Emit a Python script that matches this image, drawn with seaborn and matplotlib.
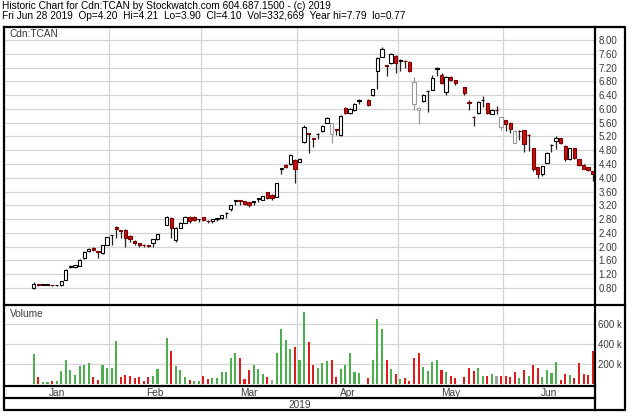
import matplotlib
matplotlib.use("Agg")
import matplotlib.pyplot as plt
import numpy as np
import pandas as pd
import seaborn as sns

# --- data ---
# weekdays on the axis; trading starts Jan 9, holidays are left empty
all_days = pd.bdate_range("2019-01-01", "2019-06-28")
holidays = ["2019-02-18", "2019-04-19", "2019-05-20"]
first_trade = "2019-01-09"

opens = [0.80, 0.90, 0.89, 0.89, 0.89, 0.88, 0.88, 1.03, 1.40, 1.40, 1.45, 1.66, 1.88, 1.97, 1.87, 1.82, 2.06, 2.33,
         2.57, 2.47, 2.48, 2.32, 2.17, 2.10, 2.06, 2.04, 2.10, 2.22,
         2.64, 2.82, 2.20, 2.55, 2.70, 2.86, 2.86, 2.80, 2.86, 2.76, 2.74, 2.81, 2.82, 2.98, 3.08, 3.34, 3.34, 3.32,
         3.30, 3.30, 3.39, 3.37, 3.58, 3.50, 3.45, 4.26, 4.37, 4.40, 4.52,
         4.47, 5.05, 5.29, 5.14, 5.27, 5.37, 5.60, 5.27, 5.41, 5.24, 6.04, 5.87, 5.97, 6.22,
         6.26, 6.40, 7.10, 7.52, 7.27, 7.34, 7.55, 7.40, 7.40, 7.36, 6.14, 5.97, 6.22, 6.52, 6.56, 7.15, 7.00, 6.50,
         6.94, 6.83,
         6.63, 6.19, 5.77, 5.87, 6.25, 6.16, 5.86, 5.98, 5.48, 5.67, 5.60, 5.02, 5.36, 5.39, 5.25, 4.86, 4.30, 4.10,
         4.44, 4.94, 5.08, 5.15, 4.93, 4.54, 4.86, 4.54, 4.37, 4.30, 4.20]
highs = [0.96, 0.91, 0.91, 0.91, 0.90, 0.90, 1.01, 1.34, 1.46, 1.47, 1.63, 1.86, 1.97, 1.98, 1.88, 2.06, 2.28, 2.35,
         2.59, 2.48, 2.50, 2.33, 2.19, 2.11, 2.07, 2.05, 2.22, 2.38,
         2.89, 2.85, 2.58, 2.72, 2.88, 2.88, 2.88, 2.81, 2.87, 2.78, 2.80, 2.83, 2.93, 3.00, 3.22, 3.36, 3.36, 3.33,
         3.31, 3.32, 3.41, 3.48, 3.60, 3.52, 3.86, 4.28, 4.39, 4.70, 4.55,
         4.58, 5.52, 5.30, 5.16, 5.29, 5.52, 5.76, 5.60, 5.42, 5.82, 6.06, 6.03, 6.17, 6.30,
         6.28, 6.58, 7.50, 7.79, 7.29, 7.62, 7.57, 7.44, 7.42, 7.38, 6.94, 6.06, 6.43, 6.55, 6.99, 7.22, 7.04, 6.96,
         6.96, 6.85,
         6.65, 6.26, 5.80, 6.23, 6.38, 6.18, 5.99, 6.10, 5.78, 5.69, 5.62, 5.38, 5.38, 5.40, 5.26, 4.88, 4.32, 4.35,
         4.75, 4.97, 5.20, 5.17, 4.95, 4.88, 4.88, 4.56, 4.39, 4.32, 4.21]
lows = [0.77, 0.87, 0.88, 0.88, 0.86, 0.87, 0.87, 1.02, 1.38, 1.38, 1.43, 1.65, 1.84, 1.86, 1.66, 1.80, 2.04, 2.05,
        2.25, 2.25, 2.00, 2.15, 2.05, 2.00, 2.00, 2.00, 1.98, 2.20,
        2.62, 2.25, 2.15, 2.53, 2.68, 2.70, 2.74, 2.72, 2.75, 2.70, 2.70, 2.75, 2.80, 2.82, 3.05, 3.20, 3.22, 3.20,
        3.16, 3.20, 3.30, 3.35, 3.38, 3.36, 3.43, 4.12, 4.28, 4.38, 3.84,
        4.45, 5.00, 4.71, 4.90, 5.12, 5.34, 5.58, 5.00, 5.25, 5.22, 5.85, 5.85, 5.95, 6.15,
        6.08, 6.38, 6.59, 7.50, 6.95, 7.30, 7.05, 7.10, 7.20, 7.08, 5.98, 5.57, 6.20, 5.90, 6.54, 6.95, 6.72, 6.40,
        6.80, 6.70,
        6.40, 5.96, 5.50, 5.85, 6.05, 5.85, 5.84, 5.85, 5.40, 5.35, 5.31, 5.00, 5.10, 4.76, 4.77, 4.20, 4.00, 4.05,
        4.42, 4.75, 4.85, 4.98, 4.50, 4.52, 4.55, 4.35, 4.25, 4.20, 3.90]
closes = [0.93, 0.89, 0.90, 0.91, 0.88, 0.89, 1.00, 1.32, 1.43, 1.46, 1.61, 1.84, 1.93, 1.89, 1.85, 2.05, 2.27, 2.34,
          2.50, 2.46, 2.25, 2.21, 2.10, 2.05, 2.04, 2.03, 2.21, 2.36,
          2.87, 2.53, 2.55, 2.70, 2.86, 2.74, 2.78, 2.80, 2.77, 2.74, 2.79, 2.82, 2.92, 2.99, 3.21, 3.35, 3.33, 3.23,
          3.21, 3.31, 3.40, 3.47, 3.40, 3.40, 3.84, 4.27, 4.32, 4.66, 4.27,
          4.56, 5.48, 5.27, 5.13, 5.28, 5.50, 5.75, 5.58, 5.40, 5.79, 5.87, 6.00, 6.14, 6.26,
          6.12, 6.57, 7.47, 7.73, 7.26, 7.60, 7.32, 7.41, 7.38, 7.11, 6.78, 6.04, 6.41, 6.53, 6.90, 7.19, 6.75, 6.93,
          6.84, 6.75,
          6.46, 6.18, 5.76, 6.21, 6.27, 5.87, 5.97, 5.97, 5.76, 5.57, 5.41, 5.36, 5.37, 4.98, 5.23, 4.27, 4.10, 4.33,
          4.73, 4.95, 5.15, 5.00, 4.54, 4.86, 4.57, 4.37, 4.27, 4.22, 4.10]
volumes = [300000, 66000, 23000, 23000, 30000, 30000, 133000, 243000, 144000, 90000, 176000, 190000, 210000,
           70000, 37000, 190000, 160000, 160000,
           434000, 66000, 90000, 80000, 63000, 70000, 30000, 66000, 77000, 150000,
           457000, 330000, 184000, 144000, 70000, 37000, 34000, 34000, 80000, 50000, 63000, 60000, 117000, 123000,
           260000, 307000, 260000, 50000, 140000, 190000, 150000, 100000, 70000, 40000, 310000, 550000, 440000,
           350000, 370000,
           240000, 725000, 420000, 194000, 164000, 213000, 233000, 243000, 66000, 154000, 194000, 308000, 121000,
           115000,
           56000, 236000, 648000, 548000, 236000, 148000, 98000, 49000, 56000, 33000, 262000, 312000, 174000, 131000,
           220000, 243000, 144000, 121000, 82000, 56000,
           72000, 161000, 131000, 164000, 82000, 79000, 105000, 82000, 79000, 79000, 72000, 121000, 56000, 138000,
           82000, 187000, 161000, 72000, 144000, 115000, 220000, 39000, 98000, 95000, 56000, 213000, 105000, 89000,
           332669]

price_ticks = np.arange(0.8, 8.01, 0.4)
volume_ticks = [200000, 400000, 600000]

# --- place the trading days on the weekday axis ---
trade_mask = (all_days >= pd.Timestamp(first_trade)) & ~all_days.isin(pd.to_datetime(holidays))
pos = np.arange(len(all_days))[trade_mask]
df = pd.DataFrame({"pos": pos, "open": opens, "high": highs, "low": lows,
                   "close": closes, "vol": volumes}, index=all_days[trade_mask])
prev = df["close"].shift(1).fillna(df["open"].iloc[0])
df["move"] = np.where(df["close"] > prev, "up", np.where(df["close"] < prev, "down", "flat"))

months = pd.Series(np.arange(len(all_days)), index=all_days).groupby(all_days.month)
month_start = [g.iloc[0] - 0.5 for _, g in months][1:]
month_mid = [g.mean() for _, g in months]
month_names = [g.index[0].strftime("%b") for _, g in months]

# --- figure ---
sns.set_theme(style="white")
plt.rcParams["font.family"] = ["Liberation Sans", "DejaVu Sans"]

W, H = 632, 417
fig = plt.figure(figsize=(W / 100, H / 100), dpi=100)


def px_axes(x0, y0, x1, y1):
    return fig.add_axes([x0 / W, 1 - y1 / H, (x1 - x0) / W, (y1 - y0) / H])


ax_p = px_axes(4, 27, 595, 305)
ax_v = px_axes(4, 305, 595, 386)
ax_m = px_axes(4, 386, 595, 398)
ax_y = px_axes(4, 398, 595, 410)

grid_kw = dict(color="#d4d4d4", linewidth=0.9)
label_color = "#3a3a3a"

# candlesticks
up = df["close"] >= df["open"]
edge = np.where(up, np.where(df["move"] == "down", "#9a9a9a", "black"), "#7a0000")
face = np.where(up, "white", "#c81010")
wick = np.where(up & (df["move"] == "down"), "#9a9a9a", "#222222")
body_lo = np.minimum(df["open"], df["close"])
body_h = np.maximum((df["close"] - df["open"]).abs(), 0.012)
ax_p.vlines(df["pos"], df["low"], df["high"], colors=wick, linewidth=0.9, zorder=3)
ax_p.bar(df["pos"], body_h, bottom=body_lo, width=0.72, color=face, edgecolor=edge,
         linewidth=0.8, zorder=4)

ax_p.set_xlim(-0.5, len(all_days) - 0.5)
ax_p.set_ylim(0.306, 8.38)
ax_p.yaxis.tick_right()
ax_p.set_yticks(price_ticks)
ax_p.set_yticklabels([f"{v:.2f}" for v in price_ticks])
ax_p.set_xticks(month_start)
ax_p.tick_params(axis="both", length=0, labelbottom=False, labelsize=7, labelcolor=label_color, pad=2.5)
ax_p.grid(True, **grid_kw)
ax_p.set_axisbelow(True)

# volume
sns.barplot(data=df, x="pos", y="vol", hue="move", native_scale=True, dodge=False, errorbar=None,
            palette={"up": "#4cae4c", "down": "#e01b1b", "flat": "#a0a0a0"}, saturation=1,
            width=0.45, linewidth=0, legend=False, ax=ax_v, zorder=3)
ax_v.set_xlim(-0.5, len(all_days) - 0.5)
ax_v.set_ylim(-20000, 790000)
ax_v.yaxis.tick_right()
ax_v.set_yticks(volume_ticks)
ax_v.set_yticklabels([f"{v // 1000:.0f} k" for v in volume_ticks])
ax_v.set_xticks(month_start)
ax_v.tick_params(axis="both", length=0, labelbottom=False, labelsize=7, labelcolor=label_color, pad=2.5)
ax_v.set_xlabel("")
ax_v.set_ylabel("")
ax_v.grid(True, **grid_kw)
ax_v.set_axisbelow(True)

# month and year rows
for ax in (ax_m, ax_y):
    ax.set_xlim(-0.5, len(all_days) - 0.5)
    ax.set_ylim(0, 1)
    ax.set_xticks([])
    ax.set_yticks([])
for x, name in zip(month_mid, month_names):
    ax_m.text(x, 0.45, name, ha="center", va="center", fontsize=7.3, color=label_color)
ax_y.text((len(all_days) - 1) / 2, 0.45, str(all_days[0].year), ha="center", va="center",
          fontsize=7.3, color=label_color)

for ax in (ax_p, ax_v, ax_m, ax_y):
    for s in ax.spines.values():
        s.set_visible(False)
    ax.set_facecolor("white")

# frame lines and header on a pixel overlay
ov = fig.add_axes([0, 0, 1, 1], facecolor="none", zorder=10)
ov.set_xlim(0, W)
ov.set_ylim(H, 0)
ov.axis("off")
lk = dict(color="black", linewidth=1.6, solid_capstyle="projecting")
ov.plot([3.5, 625, 625, 3.5, 3.5], [27, 27, 410, 410, 27], **lk)
ov.plot([595, 595], [27, 410], **lk)
ov.plot([3.5, 625], [305, 305], **lk)
ov.plot([3.5, 595], [386, 386], **lk)
ov.plot([3.5, 595], [398, 398], **lk)

last = df.iloc[-1]
day = df.index[-1]
ov.text(2, 5.5, "Historic Chart for Cdn:TCAN by Stockwatch.com 604.687.1500 - (c) 2019",
        fontsize=7.3, va="center", ha="left", color="black")
ov.text(2, 16, f"{day.strftime('%a %b %d %Y')}  Op={last['open']:.2f}  Hi={last['high']:.2f}  "
               f"Lo={last['low']:.2f}  Cl={last['close']:.2f}  Vol={int(last['vol']):,}  "
               f"Year hi={df['high'].max():.2f}  lo={df['low'].min():.2f}",
        fontsize=7.3, va="center", ha="left", color="black")
ov.text(10, 34, "Cdn:TCAN", fontsize=7.3, va="center", ha="left", color=label_color)
ov.text(10, 314, "Volume", fontsize=7.3, va="center", ha="left", color=label_color)

fig.savefig("out.png", dpi=100, facecolor="white")
